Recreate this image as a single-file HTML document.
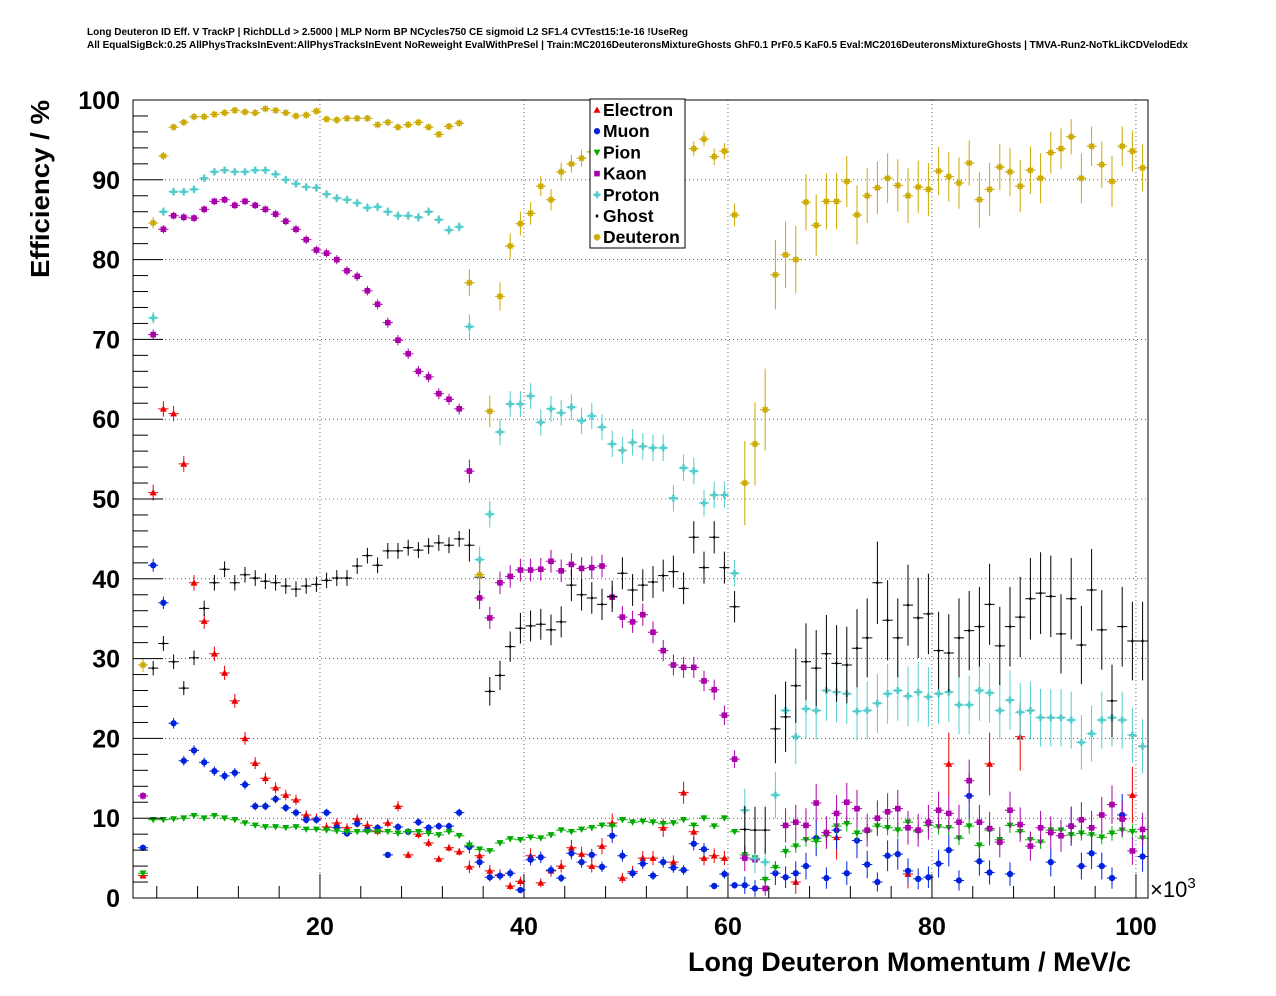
<!DOCTYPE html>
<html><head><meta charset="utf-8">
<style>
html,body{margin:0;padding:0;background:#fff;}
svg{display:block;font-family:"Liberation Sans",Arial,sans-serif;}
</style></head>
<body>
<svg id="chart" width="1276" height="996" viewBox="0 0 1276 996" xmlns="http://www.w3.org/2000/svg">
<rect width="1276" height="996" fill="#fff"/>
<text x="87" y="35" font-size="10" font-weight="bold" textLength="601" lengthAdjust="spacingAndGlyphs">Long Deuteron ID Eff. V TrackP | RichDLLd &gt; 2.5000 | MLP Norm BP NCycles750 CE sigmoid L2 SF1.4 CVTest15:1e-16 !UseReg</text>
<text x="87" y="48" font-size="10" font-weight="bold" textLength="1101" lengthAdjust="spacingAndGlyphs">All EqualSigBck:0.25 AllPhysTracksInEvent:AllPhysTracksInEvent NoReweight EvalWithPreSel | Train:MC2016DeuteronsMixtureGhosts GhF0.1 PrF0.5 KaF0.5 Eval:MC2016DeuteronsMixtureGhosts | TMVA-Run2-NoTkLikCDVelodEdx</text>
<g id="grid"></g>
<g id="marks"></g>
<rect x="133" y="100" width="1015" height="798" fill="none" stroke="#000" stroke-width="1"/>
<g id="axes"></g>
<text transform="translate(49,189) rotate(-90)" text-anchor="middle" font-size="26" font-weight="bold" textLength="178" lengthAdjust="spacingAndGlyphs">Efficiency / %</text>
<text x="1131" y="971" text-anchor="end" font-size="27" font-weight="bold" textLength="443" lengthAdjust="spacingAndGlyphs">Long Deuteron Momentum / MeV/c</text>
<text x="1150" y="897" font-size="22" font-weight="normal">×10<tspan font-size="15" dy="-9">3</tspan></text>
<g id="legend">
<rect x="590" y="99" width="95" height="149" fill="#fff" stroke="#000" stroke-width="1"/>
</g>
</svg>
<script>
const categories = Array.from({length:99},(_, i)=>2.65+i);
const xTicks = [20,40,60,80,100];
const yTicks = [0,10,20,30,40,50,60,70,80,90,100];
const seriesNames = ["Electron","Muon","Pion","Kaon","Proton","Ghost","Deuteron"];
const _ = null;
const electron = [2.8,50.8,61.3,60.7,54.4,39.5,34.7,30.6,28.2,24.7,20,16.9,15,13.8,12.9,12.3,10.4,10,8.9,9.4,8.8,9.9,9.1,8.4,9.4,11.5,5.4,8,6.9,4.9,6.3,5.8,3.9,5.3,3.4,2.9,1.5,2.1,5.3,1.9,3.4,4.0,6.3,5.5,4,6.5,9.4,2.5,3.3,5,5,8.8,4.5,13.2,8.3,5,5.3,5,_,_,_,_,_,_,2,_,_,_,7.6,_,_,_,_,_,_,3,_,_,_,16.8,_,_,_,16.8,_,_,20.2,_,_,_,_,_,_,_,_,_,_,12.9,_];
const muon = [6.3,41.7,37,21.9,17.2,18.5,17,15.9,15.3,15.7,14.2,11.5,11.5,12.4,11.3,10.7,9.8,9.8,10.7,8.8,8.1,9.3,8.5,8.8,5.4,8.9,8.3,9.5,8.8,9,9,10.7,6.4,4.5,2.6,2.8,3.1,1,4.8,5.1,3.5,2.5,5.6,4.5,5.4,3.9,7.8,5.3,3.1,4.3,2.8,4.5,3.8,3.5,6.8,6.1,1.5,3,1.6,1.6,1.2,_,3.1,2.6,3.1,4,7.5,2.5,8.5,3.1,7.2,4.2,2,5.3,5.5,3.4,2.4,2.6,4.3,6,2.2,12.8,4.6,3.2,_,3,_,_,_,4.5,_,9,4,5.6,4,2.5,10.4,_,5.2];
const pion = [3.1,9.8,9.8,9.9,10,10.3,10,10.3,10,9.8,9.4,9.1,8.9,8.9,8.8,8.9,8.6,8.6,8.5,8.4,8.3,8.3,8.3,8.3,8.3,8.1,8.3,8.3,8.1,7.9,8.3,7.8,6.6,6.1,5.9,6.9,7.4,7.3,7.6,7.5,7.9,8.5,8.3,8.6,8.8,9.1,9,9.8,9.5,9.6,9.5,9.3,9.4,9.8,9.1,10,9,10,8.3,5.4,5,2.3,3.8,5.8,6.5,7.3,7.1,7.8,9,9.3,8.1,8.3,9,8.8,8.5,9.5,8.3,9.1,8.9,8.8,7.5,9,6.6,8.5,7.3,9.1,8.3,7.3,7,8.5,8.5,7.9,8.1,7.9,7.6,8.1,8.5,8.3,7.5];
const kaon = [12.8,70.6,83.8,85.5,85.3,85.2,86.3,87.3,87.5,86.8,87.3,86.8,86.3,85.7,84.8,83.8,82.5,81.2,80.8,80,78.6,77.9,76.1,74.4,72.1,69.9,68.2,66,65.3,63.2,62.5,61.3,53.5,37.6,35.1,39.5,40.3,41.1,41.1,41.2,42.2,41,41.8,41.3,41.4,41.6,37.7,35.2,34.6,35.5,33.3,31,29.2,28.9,28.9,27.2,26.1,22.9,17.4,5,4.8,1.2,_,9.1,9.5,9.1,11.9,8.2,10.6,12,11.2,8.5,10,10.8,11.2,8.8,8.5,9.5,11,10.6,9.5,14.7,9.5,8.7,7,11,9.2,6.5,8.8,8.2,7.8,9,9.8,8.8,10.4,11.7,9.9,5.9,8.6];
const proton = [_,72.7,86,88.5,88.5,88.8,90.2,91,91.2,91,91,91.2,91.2,90.7,90,89.5,89.1,89,88.2,87.7,87.5,87.1,86.5,86.6,86,85.5,85.5,85.3,86,85,83.7,84.1,71.6,42.4,48.1,58.4,61.9,61.9,62.9,59.6,61.3,60.8,61.5,59.8,60.4,59,56.9,56.1,57.1,56.6,56.4,56.4,50.1,53.9,53.5,49.5,50.5,50.5,40.7,11,5,4.5,12.9,23.5,20.2,23.7,23.5,26,25.8,25.6,23.4,23.5,24.4,25.6,26,25.3,25.8,25.2,25.6,25.8,24.2,24.2,26,25.7,23.5,24.8,23.3,23.5,22.6,22.6,22.6,22.3,19.5,20.6,22.3,22.6,22.3,20.4,19];
const ghost = [_,28.8,31.9,29.6,26.3,30.1,36.3,39.5,41.2,39.5,40.5,40.1,39.7,39.5,39.1,38.7,39.1,39.3,39.8,40.1,40.1,41.6,42.9,41.7,43.5,43.5,43.9,43.6,44.1,44.5,44.2,45,44.2,40.2,25.9,27.9,31.5,33.8,34.1,34.3,33.6,34.6,39.2,38,37.6,36.8,37.8,40.7,38.6,39.2,39.6,40.4,40.9,38.8,45.2,41.4,45.2,41.4,36.5,8.6,8.5,8.5,21.2,22.7,26.6,29.6,28.8,30.6,29.4,29.2,31.3,32.6,39.5,34.8,32.6,36.7,35.1,35.6,31,30.7,32.6,33.5,34,36.8,31.6,34,35.2,37.5,38.2,37.8,33.1,37.5,31.7,38.6,33.6,24.7,34,32.2,32.2];
const deuteron = [29.2,84.6,93,96.6,97.2,97.9,97.9,98.2,98.4,98.7,98.5,98.4,98.9,98.7,98.4,98,98.1,98.6,97.6,97.5,97.7,97.7,97.7,96.9,97.2,96.6,96.9,97.2,96.6,95.7,96.7,97.1,77.1,40.5,61,75.4,81.7,84.5,85.8,89.2,87.5,91,92,92.7,93.5,94,_,_,_,_,_,_,_,_,93.9,95.1,92.9,93.6,85.6,52,56.9,61.2,78.1,80.6,80,87.2,84.3,87.3,87.3,89.8,85.6,88,89,90.2,89.3,88,89.1,88.8,91.1,90.4,89.6,92.1,87.5,88.8,91.6,91,89.2,91.2,90.2,93.4,93.9,95.4,90.2,94.2,91.9,89.8,94.2,93.6,91.5];

const NS="http://www.w3.org/2000/svg";
const X0=133,X1=1148,Y0=898,Y1=100, XMIN=1.67, XMAX=101.18;
const xScale=v=>X0+(v-XMIN)/(XMAX-XMIN)*(X1-X0);
const yScale=v=>Y0-(v/100)*(Y0-Y1);
function mk(tag,attrs,parent){const e=document.createElementNS(NS,tag);for(const k in attrs)e.setAttribute(k,attrs[k]);parent.appendChild(e);return e;}
const grid=document.getElementById('grid'),axes=document.getElementById('axes'),marks=document.getElementById('marks'),legend=document.getElementById('legend');

xTicks.forEach(t=>{const x=xScale(t);
 const l=mk('line',{x1:x,x2:x,y1:Y1,y2:Y0,stroke:'#000','stroke-width':0.6,'stroke-dasharray':'1,3'},grid);
 
 
 const tk=mk('line',{x1:x,x2:x,y1:Y0,y2:Y0-24,stroke:'#000'},axes);
 
 
 const tx=mk('text',{x:x,y:935,'text-anchor':'middle','font-size':25,'font-weight':'bold'},axes);tx.textContent=t;
 
 
});
for(let v=4;v<=100;v+=4){if(v%20===0)continue;const x=xScale(v);const m=mk('line',{x1:x,x2:x,y1:Y0,y2:Y0-12,stroke:'#000'},axes);
 
 }
yTicks.forEach(t=>{const y=yScale(t);
 if(t>0&&t<100){const l=mk('line',{x1:X0,x2:X1,y1:y,y2:y,stroke:'#000','stroke-width':0.6,'stroke-dasharray':'1,3'},grid);
 
 }
 const tk=mk('line',{x1:X0,x2:X0+30,y1:y,y2:y,stroke:'#000'},axes);
 
 
 const tx=mk('text',{x:120,y:y+9,'text-anchor':'end','font-size':25,'font-weight':'bold'},axes);tx.textContent=t;
 
 
});
for(let v=2;v<100;v+=2){if(v%10===0)continue;const y=yScale(v);const m=mk('line',{x1:X0,x2:X0+15,y1:y,y2:y,stroke:'#000'},axes);
 
 }

const colors={Electron:'#ee0000',Muon:'#0022dd',Pion:'#00aa00',Kaon:'#aa00aa',Proton:'#55cccc',Ghost:'#000000',Deuteron:'#ccaa00'};
const statFactor={Electron:1,Muon:1.5,Pion:10,Kaon:2,Proton:1.5,Ghost:1,Deuteron:1};
function marker(name,x,y,s,parent){
 const c=colors[name];let e;
 if(name==='Electron')e=mk('polygon',{points:`${x},${y-s} ${x-s},${y+s*0.8} ${x+s},${y+s*0.8}`,fill:c},parent);
 else if(name==='Pion')e=mk('polygon',{points:`${x},${y+s} ${x-s},${y-s*0.8} ${x+s},${y-s*0.8}`,fill:c},parent);
 else if(name==='Muon')e=mk('circle',{cx:x,cy:y,r:s*0.9,fill:c},parent);
 else if(name==='Kaon')e=mk('rect',{x:x-s*0.8,y:y-s*0.8,width:s*1.6,height:s*1.6,fill:c},parent);
 else if(name==='Proton')e=mk('path',{d:`M${x-s} ${y}H${x+s}M${x} ${y-s}V${y+s}`,stroke:c,'stroke-width':2.5},parent);
 else if(name==='Ghost')e=mk('polygon',{points:`${x},${y-s*0.6} ${x+s*0.45},${y} ${x},${y+s*0.6} ${x-s*0.45},${y}`,fill:c},parent);
 else e=mk('path',{d:`M${x-s} ${y}H${x+s}M${x} ${y-s}V${y+s}M${x-s*0.7} ${y-s*0.7}L${x+s*0.7} ${y+s*0.7}M${x+s*0.7} ${y-s*0.7}L${x-s*0.7} ${y+s*0.7}`,stroke:c,'stroke-width':1.6},parent);
 return e;
}
const allSeries=[electron,muon,pion,kaon,proton,ghost,deuteron];
allSeries.forEach((arr,si)=>{
 const name=seriesNames[si];const c=colors[name];
 const g=mk('g',{},marks);
 
 
 arr.forEach((v,i)=>{ if(v===null)return;
  const x=xScale(categories[i]),y=yScale(v);
  const N=(i<32?2500:(i<59?600:90))*statFactor[name];
  const err=Math.max(100*Math.sqrt(Math.max(v,1.5)*(100-Math.min(v,99))/1e4/N),0.25);
  const bar=mk('path',{d:`M${xScale(categories[i]-0.5)} ${y}H${xScale(categories[i]+0.5)}M${x} ${yScale(Math.min(100,v+err))}V${yScale(Math.max(0,v-err))}`,stroke:c,'stroke-width':1},g);
  
  
  const m=marker(name,x,y,3.5,g);
  
  
 });
});
seriesNames.forEach((n,i)=>{
 const y=110+i*21.2;
 const g=mk('g',{},legend);
 
 
 marker(n,597,y,3.5,g);
 const t=mk('text',{x:603,y:y+6,'font-size':17.5,'font-weight':'bold'},g);t.textContent=n;
});
</script>
</body></html>
